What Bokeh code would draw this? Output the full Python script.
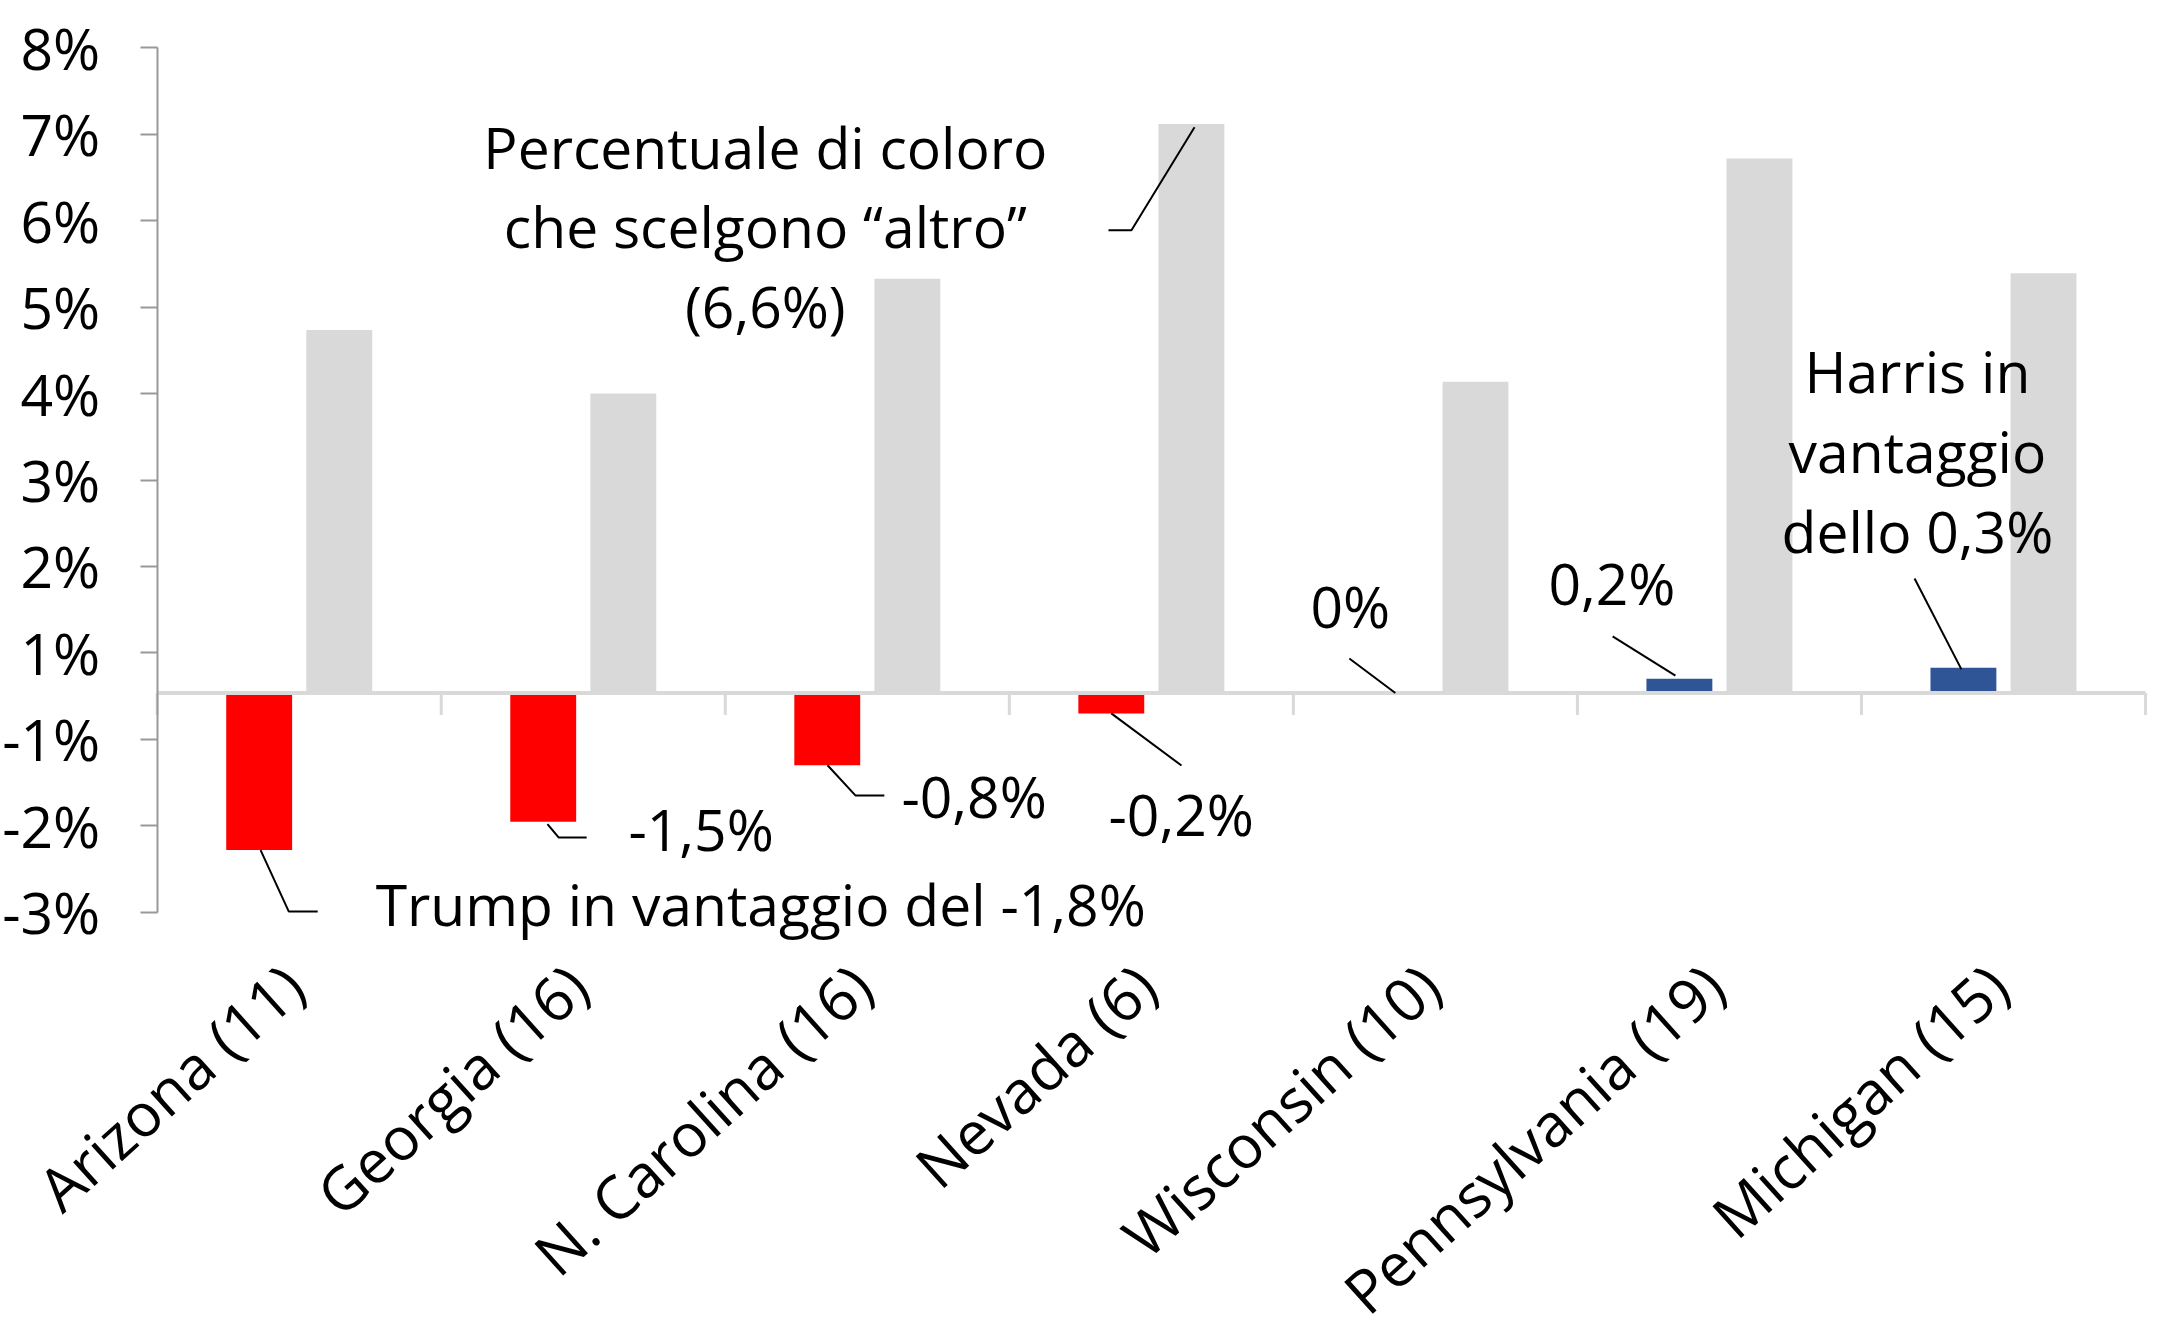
import numpy as np
from bokeh.plotting import figure
from bokeh.models import Range1d, FixedTicker, Label
from bokeh.embed import file_html
from bokeh.resources import INLINE
from bokeh.core.properties import value

# ---------------- data ----------------
states = ["Arizona (11)", "Georgia (16)", "N. Carolina (16)", "Nevada (6)",
          "Wisconsin (10)", "Pennsylvania (19)", "Michigan (15)"]
margin = [-2.00, -1.64, -0.92, -0.26, 0.00, 0.18, 0.32]      # Harris - Trump (%)
other = [4.62, 3.81, 5.27, 7.24, 3.96, 6.80, 5.34]            # % choosing "altro"
y_tick_labels = ["-3%", "-2%", "-1%", "1%", "2%", "3%", "4%", "5%", "6%", "7%", "8%"]

# ---------------- layout constants ----------------
AXIS_START, AXIS_STEP = -2.79, 1.1
X_VIEW = (-0.5517, 7.0634)     # frame covers whole canvas; axis pinned at x=0
Y_VIEW = (-8.164, 8.812)
LABEL_Y = -3.60                # anchor of the rotated category labels
LABEL_DX = -0.02
LABEL_ANGLE = np.deg2rad(42)
NOTE_DY = 0.27
FONT = "Open Sans"
FS = "57px"
CAT_FS = "60px"
OFFSET, BAR_W = 0.141, 0.232
RED, BLUE, GREY = "#FF0000", "#2F5597", "#D9D9D9"

n = len(states)
centers = np.arange(n) + 0.5
y_ticks = [round(AXIS_START + AXIS_STEP * i, 2) for i in range(len(y_tick_labels))]

p = figure(width=2163, height=1334, output_backend="svg", toolbar_location=None,
           x_range=Range1d(*X_VIEW), y_range=Range1d(*Y_VIEW),
           x_axis_location=None,
           min_border_left=0, min_border_right=0, min_border_top=0,
           min_border_bottom=0)
p.outline_line_color = None
p.xgrid.visible = False
p.ygrid.visible = False
p.background_fill_color = "white"
p.border_fill_color = "white"

# bars
colors = [RED if m < 0 else BLUE for m in margin]
p.vbar(x=centers - OFFSET, bottom=0, top=margin, width=BAR_W,
       fill_color=colors, line_color=None)
p.vbar(x=centers + OFFSET, bottom=0, top=other, width=BAR_W,
       fill_color=GREY, line_color=None)

# zero line and category separators hanging from it
p.segment(x0=[0], y0=[0], x1=[n], y1=[0], line_color=GREY, line_width=4)
seps = np.arange(n + 1)
p.segment(x0=seps, y0=0, x1=seps, y1=-0.28, line_color=GREY, line_width=3)

# y axis, pinned at x = 0
ya = p.yaxis[0]
ya.fixed_location = 0
ya.bounds = (y_ticks[0], y_ticks[-1])
ya.ticker = FixedTicker(ticks=y_ticks)
ya.major_label_overrides = dict(zip(y_ticks, y_tick_labels))
ya.minor_tick_line_color = None
ya.major_tick_out = 17
ya.major_tick_in = 0
ya.axis_line_color = "#999999"
ya.axis_line_width = 2
ya.major_tick_line_color = "#999999"
ya.major_tick_line_width = 2
ya.major_label_standoff = 40
ya.major_label_text_font = FONT
ya.major_label_text_font_size = FS
ya.major_label_text_color = "black"

# rotated category labels
p.text(x=centers + LABEL_DX, y=[LABEL_Y] * n, text=states, angle=LABEL_ANGLE,
       text_align="right", text_baseline="middle",
       text_font=value(FONT), text_font_size=CAT_FS, text_color="black")

# leader lines: (category, series, relative points from bar end)
leaders = [
    (3, "o", [(0.011, -0.04), (-0.211, -1.352), (-0.292, -1.352)]),
    (0, "m", [(0.005, 0.0), (0.104, -0.78), (0.206, -0.78)]),
    (1, "m", [(0.015, -0.03), (0.054, -0.199), (0.153, -0.199)]),
    (2, "m", [(0.001, 0.0), (0.099, -0.384), (0.201, -0.384)]),
    (3, "m", [(0.0, 0.0), (0.247, -0.663)]),
    (4, "m", [(0.0, 0.0), (-0.162, 0.439)]),
    (5, "m", [(-0.014, 0.04), (-0.235, 0.539)]),
    (6, "m", [(-0.007, -0.02), (-0.172, 1.137)]),
]
xs, ys = [], []
for i, s, pts in leaders:
    bx = centers[i] + (OFFSET if s == "o" else -OFFSET)
    by = other[i] if s == "o" else margin[i]
    xs.append([bx + dx for dx, dy in pts])
    ys.append([by + dy for dx, dy in pts])
p.multi_line(xs=xs, ys=ys, line_color="black", line_width=2)

# annotation texts (x, baseline y in data units)
notes = [
    ("Percentuale di coloro", 2.141, 6.675, "center"),
    ("che scelgono \u201caltro\u201d", 2.141, 5.670, "center"),
    ("(6,6%)", 2.141, 4.652, "center"),
    ("Trump in vantaggio del -1,8%", 0.769, -2.959, "left"),
    ("-1,5%", 1.659, -2.004, "left"),
    ("-0,8%", 2.620, -1.584, "left"),
    ("-0,2%", 3.349, -1.813, "left"),
    ("0%", 4.060, 0.834, "left"),
    ("0,2%", 4.898, 1.126, "left"),
    ("Harris in", 6.197, 3.824, "center"),
    ("vantaggio", 6.197, 2.806, "center"),
    ("dello 0,3%", 6.197, 1.788, "center"),
]
for t, x, y, al in notes:
    p.add_layout(Label(x=x, y=y + NOTE_DY, text=t, text_align=al,
                       text_baseline="alphabetic",
                       text_font=FONT, text_font_size=FS, text_color="black"))

open("out.html", "w").write(file_html(p, INLINE))
